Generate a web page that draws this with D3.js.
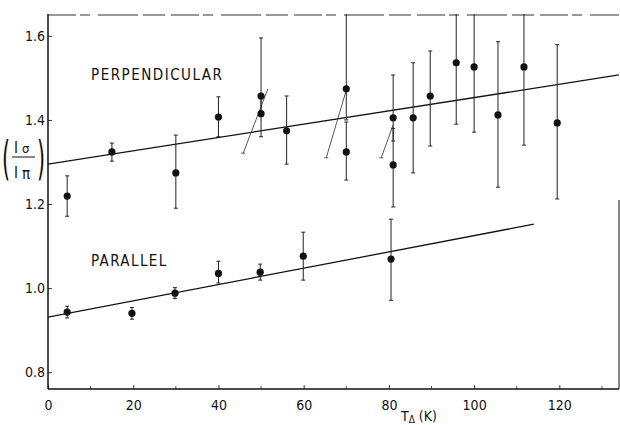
<!DOCTYPE html>
<html>
<head>
<meta charset="utf-8">
<script src="https://cdn.jsdelivr.net/npm/d3@7"></script>
<style>
body { margin: 0; background: #fff; overflow: hidden; }
svg { display: block; }
text { font-family: "DejaVu Sans Condensed", "Liberation Sans Narrow", sans-serif; fill: #111; }
</style>
</head>
<body>
<svg id="chart" width="620" height="425"></svg>
<script>
// perpendicular points: temperature, ratio, error bar low / high
var perpT  = [4.5, 15, 30, 40, 50, 50, 56, 70, 70, 81, 81, 85.7, 89.7, 95.8, 100, 105.6, 111.7, 119.5];
var perpV  = [1.219, 1.324, 1.274, 1.407, 1.457, 1.415, 1.374, 1.474, 1.324, 1.405, 1.293, 1.405, 1.457, 1.536, 1.526, 1.412, 1.526, 1.393];
var perpLo = [1.171, 1.302, 1.190, 1.360, 1.415, 1.360, 1.295, 1.400, 1.257, 1.350, 1.193, 1.274, 1.338, 1.390, 1.371, 1.240, 1.340, 1.212];
var perpHi = [1.267, 1.345, 1.364, 1.455, 1.595, 1.457, 1.457, 1.70, 1.395, 1.507, 1.380, 1.536, 1.564, 1.70, 1.70, 1.586, 1.70, 1.579];

var paraT  = [4.5, 19.7, 29.8, 40, 49.8, 59.9, 80.5];
var paraV  = [0.943, 0.940, 0.988, 1.035, 1.038, 1.076, 1.069];
var paraLo = [0.929, 0.926, 0.975, 1.012, 1.019, 1.019, 0.971];
var paraHi = [0.957, 0.954, 1.001, 1.064, 1.057, 1.133, 1.164];

// fitted straight lines [t0, v0, t1, v1]
var perpFit = [0, 1.295, 134, 1.507];
var paraFit = [0, 0.931, 114, 1.152];

// thin slanted segments drawn through some perpendicular points
var slantT0 = [45.8, 65.3, 78.2];
var slantV0 = [1.321, 1.310, 1.310];
var slantT1 = [51.6, 70.0, 81.0];
var slantV1 = [1.474, 1.471, 1.388];

var xTicks = [0, 20, 40, 60, 80, 100, 120];
var xMinor = [10, 30, 50, 70, 90, 110, 130];
var yTicks = [0.8, 1.0, 1.2, 1.4, 1.6];

var pLeft = 48, pRight = 619, pTop = 14, pBottom = 389;
var x = d3.scaleLinear().domain([0, 134]).range([pLeft, pRight]);
var y = d3.scaleLinear().domain([0.76, 1.652]).range([pBottom, pTop]);

var svg = d3.select("#chart");

svg.append("clipPath").attr("id", "clip")
  .append("rect").attr("x", pLeft).attr("y", pTop).attr("width", pRight - pLeft).attr("height", pBottom - pTop);

// axes
var xAxis = d3.axisBottom(x).tickValues(xTicks).tickSize(-4).tickPadding(11).tickFormat(d3.format("d"));
var gx = svg.append("g").attr("transform", "translate(0," + pBottom + ")").call(xAxis);
gx.select(".domain").remove();
gx.selectAll("text").style("font-size", "14px").attr("fill", "#111");
gx.selectAll("line").attr("stroke", "#333");

svg.append("g").attr("transform", "translate(0," + pBottom + ")")
  .selectAll("line").data(xMinor).enter().append("line")
  .attr("x1", function(d){ return x(d); }).attr("x2", function(d){ return x(d); })
  .attr("y1", 0).attr("y2", -3).attr("stroke", "#555");

var yAxis = d3.axisLeft(y).tickValues(yTicks).tickSize(-4).tickPadding(3).tickFormat(d3.format(".1f"));
var gy = svg.append("g").attr("transform", "translate(" + pLeft + ",0)").call(yAxis);
gy.select(".domain").remove();
gy.selectAll("text").style("font-size", "14px").attr("fill", "#111");
gy.selectAll("line").attr("stroke", "#333");

// frame
svg.append("line").attr("x1", pLeft).attr("x2", pLeft).attr("y1", pTop).attr("y2", pBottom)
  .attr("stroke", "#111").attr("stroke-width", 1.5);
svg.append("line").attr("x1", pLeft).attr("x2", pRight).attr("y1", pBottom).attr("y2", pBottom)
  .attr("stroke", "#111").attr("stroke-width", 1.5);
svg.append("line").attr("x1", pLeft).attr("x2", pRight).attr("y1", pTop + 1).attr("y2", pTop + 1)
  .attr("stroke", "#333").attr("stroke-width", 1).attr("stroke-dasharray", "28,4,10,8,40,5,22,6");
svg.append("line").attr("x1", pRight).attr("x2", pRight).attr("y1", 200).attr("y2", pBottom)
  .attr("stroke", "#333").attr("stroke-width", 1.2);

var plot = svg.append("g").attr("clip-path", "url(#clip)");

// fit lines
function fitLine(f) {
  plot.append("line")
    .attr("x1", x(f[0])).attr("y1", y(f[1]))
    .attr("x2", x(f[2])).attr("y2", y(f[3]))
    .attr("stroke", "#111").attr("stroke-width", 1.3);
}
fitLine(perpFit);
fitLine(paraFit);

// slanted segments
plot.selectAll(".slant").data(slantT0).enter().append("line")
  .attr("class", "slant")
  .attr("x1", function(d){ return x(d); })
  .attr("y1", function(d, i){ return y(slantV0[i]); })
  .attr("x2", function(d, i){ return x(slantT1[i]); })
  .attr("y2", function(d, i){ return y(slantV1[i]); })
  .attr("stroke", "#444").attr("stroke-width", 0.9);
plot.selectAll(".slantcap").data(slantT0).enter().append("line")
  .attr("class", "slantcap")
  .attr("x1", function(d){ return x(d) - 2; })
  .attr("x2", function(d){ return x(d) + 2; })
  .attr("y1", function(d, i){ return y(slantV0[i]); })
  .attr("y2", function(d, i){ return y(slantV0[i]); })
  .attr("stroke", "#444").attr("stroke-width", 0.9);

function drawSeries(ts, vs, lo, hi, cls) {
  var g = plot.append("g").attr("class", cls);
  g.selectAll(".err").data(ts).enter().append("line")
    .attr("class", "err")
    .attr("x1", function(d){ return x(d); }).attr("x2", function(d){ return x(d); })
    .attr("y1", function(d, i){ return y(lo[i]); })
    .attr("y2", function(d, i){ return y(hi[i]); })
    .attr("stroke", "#222").attr("stroke-width", 1);
  [lo, hi].forEach(function(arr){
    g.selectAll(null).data(ts).enter().append("line")
      .attr("x1", function(d){ return x(d) - 2; })
      .attr("x2", function(d){ return x(d) + 2; })
      .attr("y1", function(d, i){ return y(arr[i]); })
      .attr("y2", function(d, i){ return y(arr[i]); })
      .attr("stroke", "#222").attr("stroke-width", 1);
  });
  g.selectAll("circle").data(ts).enter().append("circle")
    .attr("cx", function(d){ return x(d); })
    .attr("cy", function(d, i){ return y(vs[i]); })
    .attr("r", 3.6)
    .style("fill", "#111");
}
drawSeries(perpT, perpV, perpLo, perpHi, "perp");
drawSeries(paraT, paraV, paraLo, paraHi, "para");

// series labels
svg.append("text").attr("x", 91).attr("y", 80)
  .style("font-size", "15px").style("letter-spacing", "1.5px").text("PERPENDICULAR");
svg.append("text").attr("x", 91).attr("y", 266)
  .style("font-size", "15px").style("letter-spacing", "1.4px").text("PARALLEL");

// y axis title (I_sigma / I_pi)
var yl = svg.append("g");
yl.append("text").attr("x", 2).attr("y", 174).style("font-size", "46px").style("font-weight", "200")
  .attr("transform", "translate(2,174) scale(0.5,1) translate(-2,-174)").text("(");
yl.append("text").attr("x", 37).attr("y", 174).style("font-size", "46px").style("font-weight", "200")
  .attr("transform", "translate(37,174) scale(0.5,1) translate(-37,-174)").text(")");
yl.append("text").attr("x", 14).attr("y", 153).style("font-size", "15px").text("I");
yl.append("text").attr("x", 22).attr("y", 153).style("font-size", "13px").text("σ");
yl.append("line").attr("x1", 12).attr("x2", 35).attr("y1", 157).attr("y2", 157)
  .attr("stroke", "#111").attr("stroke-width", 1);
yl.append("text").attr("x", 14).attr("y", 178).style("font-size", "15px").text("I");
yl.append("text").attr("x", 22).attr("y", 179).style("font-size", "15px").text("π");

// x axis title
var xl = svg.append("text").attr("x", 401).attr("y", 421).style("font-size", "14px");
xl.append("tspan").text("T");
xl.append("tspan").attr("dy", 2).style("font-size", "10px").text("Δ");
xl.append("tspan").attr("dy", -2).text(" (K)");
</script>
</body>
</html>
